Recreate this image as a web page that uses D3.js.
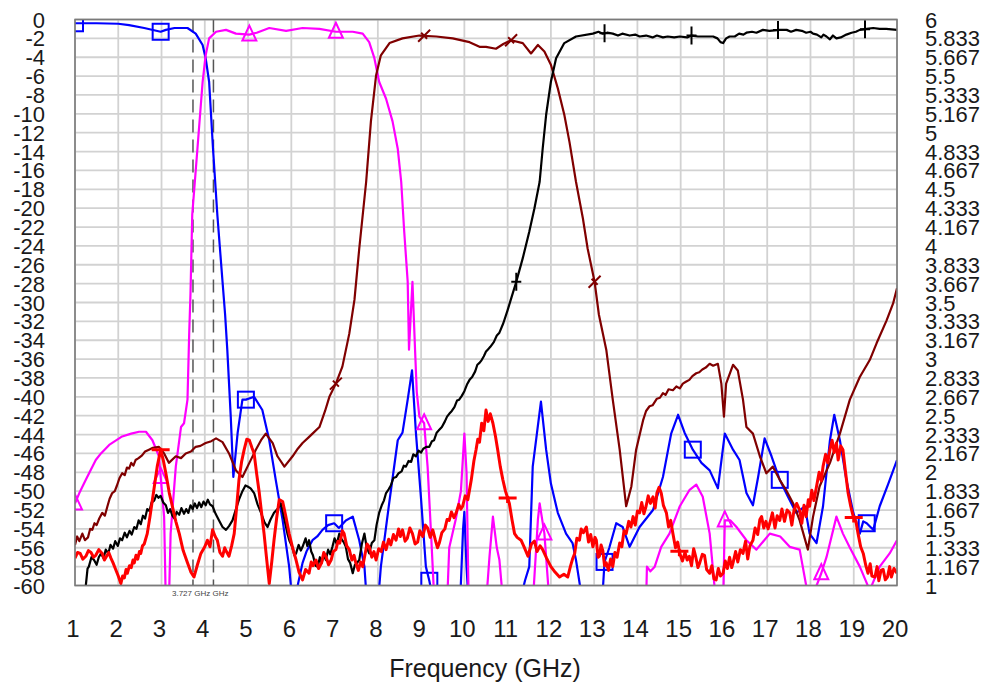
<!DOCTYPE html>
<html>
<head>
<meta charset="utf-8">
<script src="https://cdn.jsdelivr.net/npm/d3@7"></script>
<style>
  html, body { margin: 0; padding: 0; background: #fff; }
  svg { display: block; font-family: "Liberation Sans", Arial, sans-serif; }
</style>
</head>
<body>
<svg id="chart" width="991" height="684"></svg>
<script>
// Frequency ticks (GHz), left dB ticks, right secondary-axis ticks
const freqTicks = d3.range(1, 21);
const dbTicks = d3.range(0, -61, -2);
const rightTicks = d3.range(0, 31).map(i => 6 - i / 6);

// Vertical marker lines (GHz)
const markerLines = [3.727, 4.2];
const markerText = "3.727 GHz GHz";

// Each trace: frequency (GHz) and magnitude (dB)
const blueF = [1.0,1.5,2.0,2.25,2.6,2.98,3.1,3.3,3.6,3.79,3.95,4.02,4.1,4.19,4.29,4.41,4.47,4.52,4.6,4.66,4.76,4.87,4.95,5.14,5.33,5.49,5.64,5.8,5.95,6.03,6.1,6.26,6.35,6.49,6.6,6.72,6.85,6.99,7.1,7.26,7.42,7.57,7.69,7.75,8.0,8.07,8.17,8.27,8.46,8.57,8.69,8.79,8.88,9.0,9.11,9.19,9.3,9.9,9.97,10.0,10.05,10.1,11.27,11.4,11.5,11.58,11.77,11.89,12.0,12.16,12.35,12.5,12.58,12.74,13.18,13.24,13.35,13.51,13.66,13.82,14.05,14.36,14.59,14.78,14.94,15.09,15.28,15.48,15.67,15.86,16.02,16.21,16.36,16.52,16.67,16.79,16.94,17.1,17.29,17.48,17.67,17.87,17.98,18.14,18.29,18.45,18.55,18.68,18.83,18.99,19.14,19.22,19.3,19.45,19.6,19.8,20.0];
const blueDb = [-0.4,-0.4,-0.45,-0.6,-0.9,-1.3,-1.1,-0.9,-0.9,-1.5,-2.7,-4.1,-6.6,-13.7,-20.7,-27.8,-31.3,-35,-42.1,-48.5,-43.8,-40.3,-40.3,-40,-41.4,-44.6,-48.8,-53.1,-58,-62,-61,-57.6,-56.4,-55.2,-54.8,-54.1,-53.6,-53.4,-53.9,-53.1,-52.7,-55.2,-58,-62,-62,-58,-54.5,-51,-44.6,-43.8,-40.3,-37.2,-43.8,-50.9,-58,-59.5,-62,-62,-54,-52.2,-58,-62,-62,-59.5,-58,-47.4,-40.5,-45.6,-49.2,-52.3,-54.5,-55.5,-57.3,-62,-62,-57.5,-56,-53.4,-53.8,-55.9,-53.8,-52,-48.5,-43.9,-41.9,-43.8,-45.6,-47,-47.8,-49.7,-43.9,-45.6,-46.7,-50.2,-51.5,-48.5,-44.4,-46.3,-48.8,-50.6,-52.3,-51.6,-54.5,-55.5,-51.6,-44.6,-41.9,-44.6,-48.8,-52.3,-54.5,-53.2,-53.4,-54.1,-51.6,-49.2,-46.7];

const magentaF = [1.0,1.1,1.25,1.48,1.6,1.79,2.09,2.3,2.48,2.64,2.79,2.94,2.98,3.06,3.1,3.17,3.21,3.33,3.45,3.52,3.6,3.64,3.67,3.71,3.83,3.95,4.02,4.1,4.26,4.49,4.72,5.03,5.2,5.49,5.88,6.26,6.65,7.03,7.42,7.65,7.8,7.92,8.03,8.19,8.34,8.46,8.54,8.61,8.69,8.72,8.8,8.86,8.9,8.96,9.07,9.15,9.23,9.31,9.6,9.65,9.8,9.92,10.0,10.05,10.1,10.5,10.58,10.66,10.75,10.81,10.9,11.58,11.7,11.74,11.85,11.97,14.2,14.22,14.3,14.4,14.55,14.74,14.98,15.2,15.36,15.51,15.67,15.82,15.98,16.02,16.15,16.29,16.52,16.75,17.06,17.3,17.52,17.75,17.98,18.1,18.25,18.37,18.6,18.75,18.9,19.14,19.37,19.6,19.83,20.0];
const magentaDb = [-51.3,-50.2,-48.8,-46.7,-46,-45.1,-44.2,-43.9,-43.7,-43.7,-44.6,-46.3,-48.5,-52.7,-62,-62,-54.5,-47.4,-43.2,-42.8,-40.3,-33.2,-29,-20.7,-13.7,-6.6,-3.8,-2.0,-1.3,-1.1,-1.5,-1.6,-1.4,-0.9,-1.2,-0.9,-1.0,-1.3,-1.3,-1.5,-2.4,-4.1,-6.6,-8.4,-10.8,-13.7,-17.2,-22.5,-27.8,-35,-27.8,-35,-39.5,-42.1,-42.8,-47.4,-54.5,-62,-62,-56,-53,-50,-43.9,-48,-62,-62,-57,-52.7,-56,-57.3,-62,-62,-53,-51.3,-54.5,-62,-62,-58,-58.5,-58,-55.9,-54.5,-51.6,-49.9,-49.3,-50.6,-54.5,-62,-62,-53.1,-53.1,-53.8,-55.2,-56.2,-54.5,-54.8,-55.9,-56.2,-62,-60.5,-58.7,-57,-52.7,-54.5,-55.9,-58,-60.5,-58,-56.6,-55.2];

const brownF = [1.0,1.05,1.1,1.17,1.23,1.3,1.35,1.4,1.45,1.5,1.56,1.63,1.69,1.75,1.8,1.86,1.92,1.97,2.03,2.09,2.15,2.2,2.25,2.3,2.35,2.4,2.47,2.55,2.62,2.71,2.8,2.94,3.06,3.17,3.33,3.45,3.56,3.68,3.79,3.9,4.02,4.15,4.26,4.41,4.56,4.72,4.87,5.03,5.18,5.3,5.41,5.57,5.68,5.84,6.03,6.15,6.26,6.4,6.49,6.65,6.78,6.88,7.03,7.18,7.34,7.46,7.57,7.73,7.84,7.96,8.07,8.27,8.57,8.96,9.35,9.73,10.12,10.35,10.5,10.73,10.9,11.08,11.35,11.54,11.7,11.85,12.0,12.16,12.31,12.43,12.58,12.74,12.85,13.01,13.11,13.28,13.43,13.59,13.74,13.86,13.97,14.13,14.2,14.28,14.35,14.45,14.52,14.59,14.65,14.72,14.82,14.9,14.98,15.05,15.12,15.2,15.27,15.36,15.43,15.5,15.58,15.67,15.75,15.86,15.94,16.0,16.05,16.21,16.32,16.44,16.52,16.67,16.83,16.98,17.13,17.29,17.44,17.6,17.75,17.94,18.06,18.21,18.45,18.68,18.91,19.14,19.37,19.53,19.76,19.91,20.0];
const brownDb = [-55.7,-54.8,-55.3,-54.5,-55.2,-54.9,-54.0,-54.1,-53.4,-53.6,-52.9,-52.3,-52.6,-51.6,-50.8,-50.2,-50.0,-49.4,-48.6,-48.1,-48.3,-47.5,-47.6,-47.0,-47.3,-46.7,-46.5,-46.2,-45.8,-45.6,-45.4,-45.3,-46.0,-47.0,-46.3,-46.5,-46.0,-45.8,-45.3,-45.2,-44.9,-44.7,-44.4,-44.8,-46,-47.8,-48.5,-47,-45.6,-44.6,-43.9,-44.9,-46.3,-47.4,-46.3,-45.5,-44.9,-44.3,-43.9,-43.2,-41.5,-40,-38.6,-36.8,-33.3,-29.7,-24.3,-17.2,-10.8,-5.9,-3.8,-2.5,-2.0,-1.7,-1.8,-2.0,-2.4,-2.9,-2.9,-3.1,-2.6,-2.2,-2.5,-3.6,-2.7,-3.4,-4.8,-7.3,-10.1,-13,-17.2,-21.1,-24.3,-27.8,-31.3,-35,-40.3,-45.6,-51.6,-49.5,-45.6,-42.5,-41.5,-41,-40.9,-40.2,-40.1,-39.6,-39.8,-39.2,-39.3,-38.9,-39.1,-38.6,-38.4,-38.2,-37.8,-37.5,-37.4,-37.1,-36.9,-36.5,-36.7,-36.5,-38.6,-42.1,-38.6,-36.6,-37.2,-40.3,-43.2,-43.9,-46.3,-48.1,-47.4,-48.8,-49.9,-51.3,-53.1,-56.2,-52.7,-49.5,-47,-43.9,-40.3,-37.9,-36.1,-34.3,-31.9,-30.1,-28.5];

const blackF = [1.0,1.2,1.25,1.29,1.32,1.38,1.44,1.5,1.55,1.6,1.66,1.71,1.77,1.82,1.88,1.93,1.99,2.04,2.09,2.15,2.2,2.26,2.31,2.37,2.42,2.47,2.52,2.57,2.62,2.67,2.72,2.77,2.83,2.88,2.93,2.98,3.04,3.1,3.15,3.2,3.25,3.3,3.35,3.41,3.46,3.52,3.57,3.62,3.67,3.72,3.77,3.82,3.87,3.92,3.97,4.02,4.07,4.12,4.18,4.25,4.33,4.41,4.49,4.56,4.64,4.72,4.79,4.87,4.94,4.99,5.06,5.14,5.22,5.3,5.38,5.45,5.52,5.6,5.68,5.76,5.83,5.91,5.96,6.02,6.07,6.11,6.17,6.22,6.26,6.33,6.37,6.41,6.46,6.5,6.56,6.61,6.66,6.7,6.75,6.8,6.85,6.9,6.95,7.0,7.05,7.11,7.16,7.21,7.26,7.31,7.36,7.42,7.47,7.52,7.57,7.63,7.69,7.74,7.8,7.86,7.92,7.97,8.03,8.09,8.14,8.19,8.25,8.3,8.36,8.42,8.48,8.55,8.6,8.65,8.71,8.77,8.82,8.88,8.94,9.0,9.05,9.12,9.19,9.25,9.3,9.36,9.42,9.48,9.55,9.6,9.65,9.71,9.77,9.83,9.88,9.94,10.0,10.06,10.12,10.18,10.25,10.3,10.35,10.4,10.45,10.5,10.54,10.6,10.68,10.75,10.81,10.9,11.0,11.1,11.2,11.35,11.5,11.62,11.74,11.81,11.89,12.0,12.12,12.31,12.58,12.97,13.1,13.2,13.3,13.43,13.55,13.65,13.82,13.95,14.05,14.2,14.35,14.45,14.59,14.7,14.85,14.98,15.15,15.25,15.4,15.55,15.75,15.85,15.92,15.98,16.05,16.13,16.25,16.35,16.45,16.52,16.65,16.75,16.9,17.05,17.29,17.45,17.55,17.67,17.8,17.9,18.0,18.06,18.15,18.25,18.3,18.37,18.45,18.52,18.6,18.7,18.83,18.95,19.05,19.14,19.3,19.45,19.6,19.75,20.0];
const blackDb = [-62,-62,-60,-58.2,-58,-57.0,-57.3,-57.8,-57.0,-56.6,-57.1,-56.2,-56.6,-55.7,-56.1,-55.3,-55.8,-55.0,-55.2,-54.4,-54.9,-54.2,-54.6,-53.8,-54.0,-53.1,-53.5,-52.6,-52.9,-51.9,-52.1,-51.2,-51.0,-50.4,-50.7,-50.5,-51.2,-51.5,-52.3,-51.9,-52.6,-52.9,-52.2,-52.5,-51.8,-52.4,-51.9,-52.3,-51.5,-51.9,-51.3,-51.8,-51.2,-51.7,-51.1,-51.5,-50.9,-51.4,-51.6,-52.4,-53.1,-53.8,-54.1,-53.7,-53.1,-51.9,-50.9,-50.0,-49.4,-49.5,-49.7,-50.2,-51.4,-52.3,-53.3,-53.8,-53.0,-52.3,-51.9,-51.3,-52.8,-54.5,-55.3,-55.9,-56.8,-56.6,-55.7,-56.3,-55.9,-55.0,-55.8,-55.2,-56.4,-56.8,-57.9,-58,-57.0,-57.6,-56.8,-57.3,-56.2,-56.7,-55.9,-55.0,-55.6,-54.5,-55.1,-55.4,-55.9,-57.2,-57.6,-58.7,-57.8,-57.6,-57.3,-55.6,-54.5,-55.9,-56.6,-55.5,-55.2,-53.6,-52.3,-51.5,-51.0,-50.2,-49.8,-49.4,-48.6,-48.5,-48.1,-47.9,-47.3,-47.4,-46.8,-46.9,-46.1,-46.3,-45.7,-45.9,-45.5,-45.3,-45.3,-44.7,-44.6,-43.8,-43.5,-43.2,-42.6,-42.1,-41.8,-41.5,-41.1,-40.4,-40.3,-39.9,-39.4,-38.7,-38.2,-37.9,-37.3,-36.6,-36.4,-36.1,-35.7,-35.2,-35,-34.7,-34.2,-33.5,-33.2,-32.2,-30.8,-29.3,-27.8,-25.3,-22.5,-20.0,-17.2,-13.7,-10.1,-6.6,-4.1,-2.5,-1.8,-1.5,-1.3,-1.5,-1.4,-1.5,-1.7,-1.5,-1.7,-1.6,-1.8,-1.7,-1.9,-1.7,-1.9,-1.8,-1.9,-1.8,-1.9,-1.7,-1.8,-1.8,-1.8,-2.0,-2.4,-2.5,-2.0,-1.8,-1.8,-1.5,-1.6,-1.4,-1.3,-1.4,-1.1,-1.2,-1.1,-1.1,-1.3,-1.1,-1.2,-1.4,-1.3,-1.5,-1.6,-1.9,-1.6,-1.8,-2.1,-1.7,-2.0,-1.9,-1.6,-1.4,-1.3,-1.1,-1.0,-0.9,-1.0,-1.0,-1.1];

const redF = [1.0,1.06,1.12,1.18,1.25,1.31,1.37,1.43,1.48,1.55,1.63,1.68,1.73,1.78,1.83,1.88,1.94,2.0,2.06,2.1,2.14,2.18,2.21,2.26,2.3,2.34,2.37,2.41,2.45,2.49,2.52,2.56,2.6,2.67,2.73,2.79,2.85,2.9,2.98,3.04,3.1,3.18,3.25,3.33,3.41,3.5,3.6,3.68,3.75,3.83,3.91,4.0,4.06,4.12,4.18,4.24,4.29,4.35,4.41,4.46,4.5,4.56,4.62,4.68,4.74,4.79,4.85,4.91,4.97,5.03,5.09,5.14,5.2,5.26,5.32,5.37,5.43,5.49,5.55,5.6,5.66,5.72,5.8,5.87,5.95,6.03,6.11,6.18,6.26,6.33,6.41,6.46,6.5,6.57,6.63,6.7,6.75,6.8,6.86,6.92,6.97,7.03,7.08,7.12,7.18,7.22,7.28,7.34,7.4,7.45,7.49,7.55,7.6,7.65,7.7,7.75,7.8,7.86,7.91,7.96,8.02,8.08,8.13,8.19,8.25,8.3,8.36,8.42,8.48,8.52,8.57,8.63,8.68,8.74,8.8,8.86,8.92,8.97,9.04,9.1,9.15,9.21,9.27,9.33,9.38,9.42,9.48,9.55,9.6,9.65,9.7,9.76,9.81,9.87,9.92,9.96,10.02,10.08,10.16,10.22,10.27,10.31,10.35,10.4,10.45,10.5,10.55,10.6,10.66,10.72,10.77,10.83,10.89,10.95,11.04,11.1,11.16,11.22,11.31,11.38,11.47,11.55,11.62,11.68,11.75,11.81,11.9,12.0,12.1,12.2,12.3,12.39,12.45,12.5,12.55,12.6,12.66,12.7,12.75,12.82,12.87,12.92,12.97,13.02,13.05,13.09,13.12,13.16,13.2,13.24,13.28,13.33,13.38,13.43,13.48,13.53,13.59,13.64,13.69,13.74,13.8,13.85,13.9,13.95,14.0,14.05,14.1,14.15,14.2,14.25,14.3,14.36,14.41,14.45,14.5,14.55,14.6,14.67,14.72,14.77,14.82,14.88,14.93,14.98,15.04,15.1,15.15,15.2,15.25,15.3,15.35,15.4,15.44,15.5,15.55,15.6,15.67,15.72,15.77,15.82,15.87,15.92,15.98,16.03,16.08,16.13,16.18,16.21,16.27,16.32,16.38,16.44,16.5,16.55,16.6,16.67,16.72,16.78,16.83,16.87,16.92,16.97,17.02,17.06,17.12,17.18,17.23,17.29,17.34,17.4,17.46,17.52,17.57,17.62,17.68,17.75,17.8,17.85,17.9,17.95,17.98,18.03,18.08,18.14,18.2,18.25,18.29,18.35,18.4,18.45,18.5,18.55,18.6,18.64,18.7,18.75,18.8,18.87,18.93,18.99,19.05,19.1,19.16,19.22,19.28,19.33,19.38,19.42,19.49,19.54,19.58,19.63,19.68,19.73,19.78,19.83,19.87,19.93,20.0];
const redDb = [-57.1,-56.5,-56.6,-57.2,-56.9,-56.3,-56.5,-57.0,-56.8,-56.2,-56.6,-57.3,-56.9,-56.5,-57.1,-57.6,-58.3,-59.0,-59.8,-59.0,-59.2,-58.3,-58.7,-57.9,-58.1,-57.3,-57.6,-56.8,-57.2,-56.4,-56.6,-55.8,-55.6,-54.5,-52.8,-50.9,-49.0,-47.4,-45.6,-46.7,-48.1,-50.2,-51.6,-53.2,-54.5,-56.3,-57.6,-58.6,-59.1,-57.8,-56.6,-55.9,-55.2,-55.9,-54.1,-54.8,-55.2,-56.5,-56.9,-56.0,-56.4,-56.9,-55.8,-54.5,-51.5,-48.8,-46.9,-45.6,-44.5,-44.6,-45.4,-46,-48.2,-50.2,-52.6,-54.5,-57.2,-59.8,-57.4,-55.2,-52.9,-50.9,-51.1,-52.6,-54.5,-56.0,-57.3,-58.6,-59.4,-58.3,-58.7,-57.5,-57.9,-57.3,-58.2,-57.6,-56.5,-56.9,-57.8,-57.3,-56.4,-56.2,-55.3,-55.5,-54.2,-54.5,-55.8,-56.2,-57.3,-56.8,-57.6,-58.4,-57.5,-58,-56.8,-55.6,-55.9,-57.0,-56.4,-57.3,-56.1,-56.4,-55.4,-56.2,-55.1,-55.7,-54.6,-55.2,-54.0,-54.8,-54.1,-55.3,-55.0,-53.9,-54.5,-55.6,-55.4,-54.2,-54.8,-53.6,-53.9,-54.9,-54.1,-55.2,-56.0,-55.5,-54.4,-54.0,-53.0,-53.1,-52.2,-52.8,-52.3,-51.4,-51.9,-51.6,-50.5,-50.9,-48.8,-46.8,-45.6,-44.5,-44.8,-42.8,-43.6,-41.4,-42.6,-41.8,-42.8,-44.2,-45.6,-47.4,-48.8,-50.0,-51.3,-53.0,-54.5,-54.9,-55.2,-55.9,-56.9,-55.6,-55.3,-56.4,-55.8,-56.2,-57.1,-58,-58.6,-59.1,-58.8,-59.1,-58.0,-57.2,-56.6,-55.0,-55.2,-54.0,-54.4,-53.8,-55.4,-54.6,-55.9,-54.9,-55.2,-57.0,-56.9,-55.7,-56.3,-57.9,-57.6,-58.4,-57.2,-58,-56.5,-57.0,-55.5,-55.9,-54.2,-54.5,-53.2,-53.8,-52.7,-53.6,-52.1,-52.3,-51.2,-52.4,-51.6,-50.5,-51.3,-50.6,-51.8,-50.2,-49.6,-50.2,-51.5,-52.3,-53.8,-53.1,-54.5,-56.0,-55.4,-56.6,-57.4,-56.5,-57.3,-56.9,-57.9,-56.1,-57.0,-58.1,-57.6,-56.7,-56.8,-58.3,-58.7,-57.9,-59.3,-59.4,-58.2,-59.0,-58.7,-57.4,-58.2,-57.0,-58.1,-57.6,-56.4,-57.5,-56.2,-56.6,-55.3,-57.2,-55.8,-55.2,-53.9,-54.6,-53.0,-52.7,-53.9,-53.2,-54.0,-53.4,-52.3,-53.9,-52.6,-53.1,-51.9,-53.2,-52.0,-52.3,-53.6,-52.0,-51.3,-52.0,-53.4,-51.5,-52.7,-50.9,-51.6,-49.9,-51.0,-49.5,-48.0,-48.9,-47.4,-46.1,-47.0,-45.6,-44.6,-45.9,-44.9,-46.7,-45.2,-45.6,-47.6,-50.2,-51.6,-52.7,-53.2,-54.5,-55.9,-56.6,-57.9,-58.7,-57.7,-59.0,-59.1,-58.0,-59.5,-58.4,-58.3,-59.4,-59.1,-58.0,-59.1,-58.2,-58.7];

const series = [
  { name: "blue",    color: "#0000ff", width: 2.2, f: blueF,    db: blueDb,
    marker: "square",   at: [1.0, 2.98, 4.95, 6.99, 9.19, 13.24, 15.28, 17.29, 19.3] },
  { name: "magenta", color: "#ff00ff", width: 2.2, f: magentaF, db: magentaDb,
    marker: "triangle", at: [1.0, 2.98, 5.03, 7.03, 9.07, 11.85, 16.02, 18.25] },
  { name: "brown",   color: "#800000", width: 2.2, f: brownF,   db: brownDb,
    marker: "cross",    at: [7.03, 9.07, 11.08, 13.01] },
  { name: "black",   color: "#000000", width: 2.2, f: blackF,   db: blackDb,
    marker: "plus",     at: [11.2, 13.24, 15.25, 17.25, 19.26] },
  { name: "red",     color: "#ff0000", width: 3,   f: redF,     db: redDb,
    marker: "bar",      at: [2.98, 11.0, 14.97, 19.0] }
];

const svg = d3.select("#chart");
const plotLeft = 75, plotRight = 897, plotTop = 19.5, plotBottom = 585.5;

const x = d3.scaleLinear().domain([1, 20]).range([plotLeft, plotRight]);
const y = d3.scaleLinear().domain([0, -60]).range([plotTop, plotBottom]);
const y2 = d3.scaleLinear().domain([6, 1]).range([plotTop, plotBottom]);

svg.append("defs").append("clipPath").attr("id", "plotclip")
  .append("rect").attr("x", plotLeft).attr("y", plotTop)
  .attr("width", plotRight - plotLeft).attr("height", plotBottom - plotTop);

// Grid
const grid = svg.append("g");
grid.selectAll("line.v").data(freqTicks).join("line")
  .attr("class", "v")
  .attr("x1", d => x(d)).attr("x2", d => x(d))
  .attr("y1", plotTop).attr("y2", plotBottom)
  .attr("stroke", "#d2d2d2").attr("stroke-width", 1.8);
grid.selectAll("line.h").data(dbTicks).join("line")
  .attr("class", "h")
  .attr("x1", plotLeft).attr("x2", plotRight)
  .attr("y1", d => y(d)).attr("y2", d => y(d))
  .attr("stroke", "#d2d2d2").attr("stroke-width", 1.8);

// Dashed frequency markers
svg.append("g").selectAll("line").data(markerLines).join("line")
  .attr("x1", d => x(d)).attr("x2", d => x(d))
  .attr("y1", plotTop).attr("y2", plotBottom)
  .attr("stroke", "#555").attr("stroke-width", 1.5)
  .attr("stroke-dasharray", "13,7");

// Traces
const plot = svg.append("g").attr("clip-path", "url(#plotclip)");
const line = d3.line().x(d => x(d[0])).y(d => y(d[1]));

series.forEach(s => {
  const pts = s.f.map((f, i) => [f, s.db[i]]);
  plot.append("path").datum(pts)
    .attr("fill", "none").attr("stroke", s.color)
    .attr("stroke-width", s.width).attr("stroke-linejoin", "round")
    .attr("d", line);

  const interp = f => {
    const i = d3.bisectLeft(s.f, f);
    if (i <= 0) return s.db[0];
    if (i >= s.f.length) return s.db[s.f.length - 1];
    const t = (f - s.f[i - 1]) / (s.f[i] - s.f[i - 1]);
    return s.db[i - 1] + t * (s.db[i] - s.db[i - 1]);
  };

  const g = plot.append("g").attr("fill", "none").attr("stroke", s.color).attr("stroke-width", 2);
  s.at.forEach(f => {
    const cx = x(f), cy = y(interp(f));
    if (s.marker === "square") {
      g.append("rect").attr("x", cx - 8).attr("y", cy - 8).attr("width", 16).attr("height", 16);
    } else if (s.marker === "triangle") {
      g.append("path").attr("d", `M${cx},${cy - 9}L${cx + 7},${cy + 6}L${cx - 7},${cy + 6}Z`);
    } else if (s.marker === "cross") {
      g.append("path").attr("d", `M${cx - 6},${cy + 6}L${cx + 6},${cy - 6}M${cx - 3},${cy - 3}L${cx + 3},${cy + 3}`);
    } else if (s.marker === "plus") {
      g.append("path").attr("d", `M${cx},${cy - 9}L${cx},${cy + 9}M${cx - 5},${cy}L${cx + 5},${cy}`);
    } else if (s.marker === "bar") {
      g.append("path").attr("d", `M${cx - 9},${cy}L${cx + 9},${cy}M${cx},${cy - 2}L${cx},${cy + 5}`)
        .attr("stroke-width", 3);
    }
  });
});

// Plot border
svg.append("rect").attr("x", plotLeft).attr("y", plotTop)
  .attr("width", plotRight - plotLeft).attr("height", plotBottom - plotTop)
  .attr("fill", "none").attr("stroke", "#7a7a7a").attr("stroke-width", 1.6);

// Left axis labels
svg.append("g").selectAll("text").data(dbTicks).join("text")
  .attr("x", 45).attr("y", d => y(d) + 8)
  .attr("text-anchor", "end").attr("font-size", 22).attr("fill", "#1a1a1a")
  .text(d => String(d));

// Right axis labels
const fmtRight = v => String(Math.round(v * 1000) / 1000);
svg.append("g").selectAll("text").data(rightTicks).join("text")
  .attr("x", 925).attr("y", d => y2(d) + 8)
  .attr("text-anchor", "start").attr("font-size", 22).attr("fill", "#1a1a1a")
  .text(fmtRight);

// Bottom axis labels
svg.append("g").selectAll("text").data(freqTicks).join("text")
  .attr("x", d => x(d) - 2).attr("y", 637)
  .attr("text-anchor", "middle").attr("font-size", 24).attr("fill", "#1a1a1a")
  .text(d => d);

svg.append("text").attr("x", 485).attr("y", 677)
  .attr("text-anchor", "middle").attr("font-size", 25).attr("fill", "#1a1a1a")
  .text("Frequency (GHz)");

svg.append("text").attr("x", 172).attr("y", 596)
  .attr("font-size", 8).attr("fill", "#444")
  .text(markerText);
</script>
</body>
</html>
